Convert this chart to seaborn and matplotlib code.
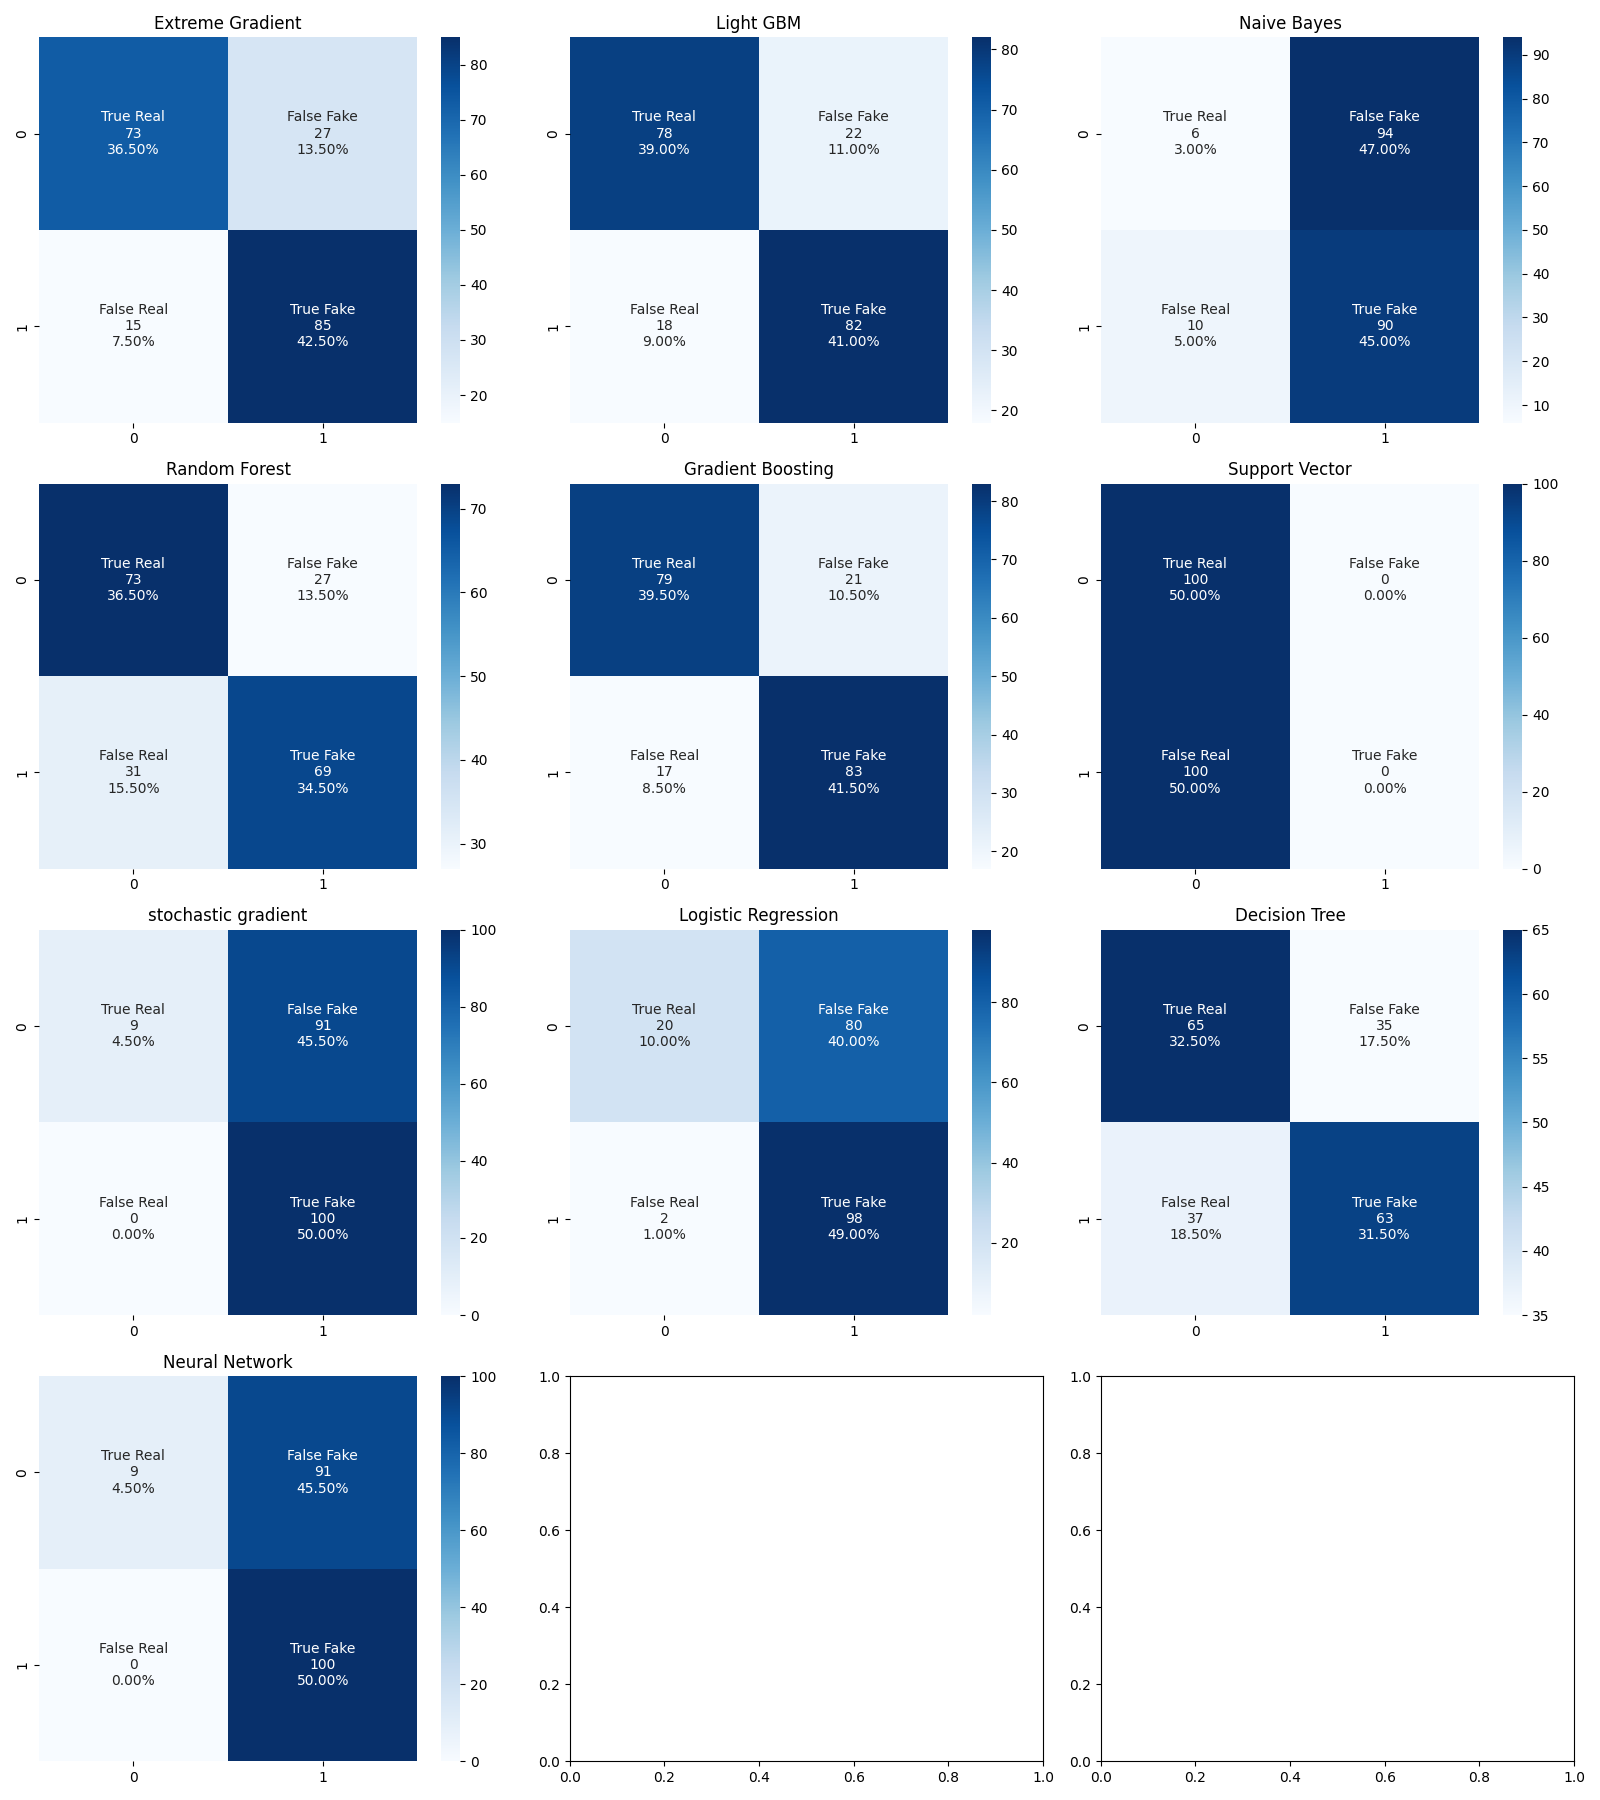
import numpy as np
import matplotlib
matplotlib.use('Agg')
import matplotlib.pyplot as plt
import seaborn as sns

# Model names and their confusion matrices (rows: actual, cols: predicted)
model_names = ['Extreme Gradient', 'Light GBM', 'Naive Bayes',
               'Random Forest', 'Gradient Boosting', 'Support Vector',
               'stochastic gradient', 'Logistic Regression', 'Decision Tree',
               'Neural Network']

xgb_cm = [[73, 27], [15, 85]]
lgbm_cm = [[78, 22], [18, 82]]
nb_cm = [[6, 94], [10, 90]]
rf_cm = [[73, 27], [31, 69]]
gb_cm = [[79, 21], [17, 83]]
svc_cm = [[100, 0], [100, 0]]
sgd_cm = [[9, 91], [0, 100]]
lr_cm = [[20, 80], [2, 98]]
dt_cm = [[65, 35], [37, 63]]
nn_cm = [[9, 91], [0, 100]]

matrices = [xgb_cm, lgbm_cm, nb_cm, rf_cm, gb_cm, svc_cm,
            sgd_cm, lr_cm, dt_cm, nn_cm]

group_names = ['True Real', 'False Fake', 'False Real', 'True Fake']

fig, axes = plt.subplots(4, 3, figsize=(16, 18))
axes = axes.flatten()

for i, (name, cm) in enumerate(zip(model_names, matrices)):
    cm = np.array(cm)
    counts = ['{0:0.0f}'.format(v) for v in cm.flatten()]
    pcts = ['{0:.2%}'.format(v) for v in cm.flatten() / np.sum(cm)]
    labels = [f'{g}\n{c}\n{p}' for g, c, p in zip(group_names, counts, pcts)]
    labels = np.asarray(labels).reshape(2, 2)
    sns.heatmap(cm, annot=labels, fmt='', cmap='Blues', ax=axes[i])
    axes[i].set_title(name)

plt.tight_layout()
plt.savefig('out.png', dpi=100)
plt.close()
